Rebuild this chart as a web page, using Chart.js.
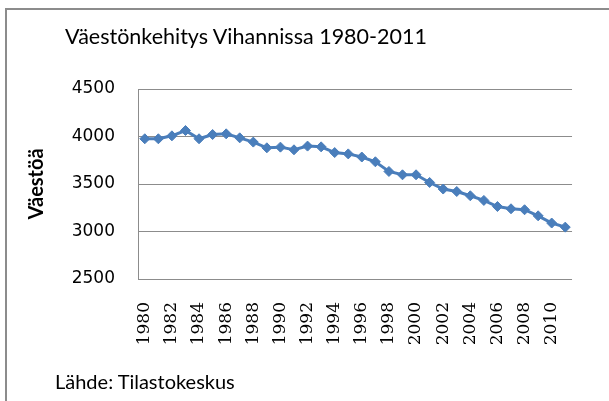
<!DOCTYPE html>
<html lang="fi">
<head>
    <meta charset="UTF-8">
    <title>Väestönkehitys Vihannissa 1980-2011</title>
    <script src="https://cdn.jsdelivr.net/npm/chart.js@4.4.0/dist/chart.umd.min.js"></script>
    <style>
        html, body { margin: 0; padding: 0; background: #fff; }
        #wrap { position: relative; width: 609px; height: 401px; overflow: hidden; }
        #frame { position: absolute; left: 5px; top: 8px; right: 0; bottom: 0;
                 border-top: 2px solid #8c8c8c; border-left: 2px solid #8c8c8c; }
        #myChart { position: absolute; left: 0; top: 0; }
        .txt { position: absolute; font-family: Lato, "Open Sans", sans-serif; color: #000;
               line-height: 1; white-space: nowrap; }
        #title { left: 65px; top: 26px; font-size: 21.5px; }
        #source { left: 55px; top: 371px; font-size: 20px; }
    </style>
</head>
<body>
<div id="wrap">
    <div id="frame"></div>
    <canvas id="myChart" width="609" height="401"></canvas>
    <div class="txt" id="title">Väestönkehitys Vihannissa 1980-2011</div>
    <div class="txt" id="source">Lähde: Tilastokeskus</div>
</div>
<script>
    // vuodet ja väkiluku (luettu kuvasta)
    const years = ['1980','1981','1982','1983','1984','1985','1986','1987','1988','1989',
                   '1990','1991','1992','1993','1994','1995','1996','1997','1998','1999',
                   '2000','2001','2002','2003','2004','2005','2006','2007','2008','2009',
                   '2010','2011'];
    const population = [3976, 3976, 4007, 4063, 3976, 4021, 4028, 3986, 3941, 3881,
                        3888, 3860, 3899, 3891, 3831, 3817, 3784, 3734, 3632, 3597,
                        3597, 3516, 3447, 3421, 3376, 3327, 3263, 3239, 3229, 3165,
                        3089, 3046];
    const yTicks = [2500, 3000, 3500, 4000, 4500];

    const gridColor = '#8c8c8c';
    const lineColor = '#4a7ebb';

    const ctx = document.getElementById('myChart').getContext('2d');
    const myChart = new Chart(ctx, {
        type: 'line',
        data: {
            labels: years,
            datasets: [{
                label: 'Väestöä',
                data: population,
                borderColor: lineColor,
                backgroundColor: lineColor,
                borderWidth: 3,
                pointStyle: 'rectRot',
                pointRadius: 5,
                pointBorderWidth: 1,
                pointBackgroundColor: lineColor,
                tension: 0
            }]
        },
        options: {
            responsive: false,
            animation: false,
            layout: { padding: { left: 0, top: 89, right: 22, bottom: 0 } },
            plugins: {
                legend: { display: false },
                tooltip: { enabled: false },
                title: { display: false }
            },
            scales: {
                x: {
                    offset: true,
                    grid: { display: false, drawTicks: false },
                    border: { display: false },
                    ticks: {
                        autoSkip: false,
                        minRotation: 90,
                        maxRotation: 90,
                        padding: 23,
                        color: '#000',
                        font: { family: "'DejaVu Serif', 'Liberation Serif', serif", size: 17 },
                        callback: (v, i) => i % 2 === 0 ? years[i] : ''
                    },
                    afterFit: s => { s.height = 122; }
                },
                y: {
                    min: yTicks[0],
                    max: yTicks[yTicks.length - 1],
                    afterBuildTicks: s => { s.ticks = yTicks.map(v => ({ value: v })); },
                    grid: { color: gridColor, lineWidth: 1, drawTicks: false },
                    border: { display: true, color: gridColor, width: 1 },
                    ticks: {
                        padding: 23,
                        color: '#000',
                        font: { family: "'DejaVu Sans', sans-serif", size: 17 },
                        callback: v => String(v)
                    },
                    title: {
                        display: true,
                        text: 'Väestöä',
                        color: '#000',
                        font: { family: 'Lato', size: 20, weight: 'bold' },
                        padding: { top: 25, bottom: 0 }
                    },
                    afterFit: s => { s.width = 138; }
                }
            }
        }
    });
</script>
</body>
</html>
